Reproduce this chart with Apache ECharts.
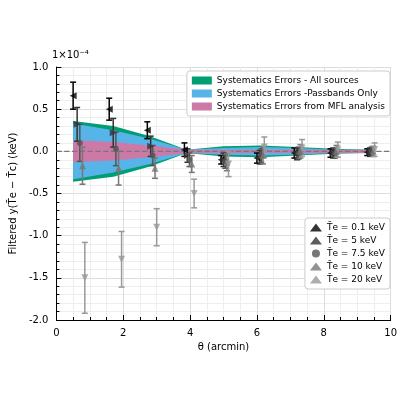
<!DOCTYPE html>
<html><head><meta charset="UTF-8">
<script src="https://cdn.jsdelivr.net/npm/echarts@6/dist/echarts.min.js"></script>
</head><body style="margin:0">
<div id="main" style="width:400px;height:400px;"></div>
<script>
// values in units of 1e-4 keV
var bandX = [0.5, 1.7, 2.8, 3.9, 5.0, 6.1, 7.2, 8.3, 9.4];
var bandAll = [0.36, 0.30, 0.18, 0.02, 0.06, 0.07, 0.05, 0.03, 0.02];
var bandPass = [0.33, 0.25, 0.15, 0.02, 0.04, 0.05, 0.04, 0.02, 0.02];
var bandMFL = [0.13, 0.11, 0.07, 0.02, 0.02, 0.02, 0.02, 0.02, 0.02];

var names = ['T̄e = 0.1 keV', 'T̄e = 5 keV', 'T̄e = 7.5 keV', 'T̄e = 10 keV', 'T̄e = 20 keV'];
var colors = ['#000000', '#333333', '#555555', '#777777', '#999999'];
var symbols = ['triangle', 'triangle', 'circle', 'triangle', 'triangle'];
var rotations = [90, -90, 0, 0, 180];
var ptX = [
  [0.5, 1.58, 2.72, 3.83, 4.93, 6.0, 7.12, 8.2, 9.3],
  [0.62, 1.7, 2.82, 3.92, 5.0, 6.08, 7.2, 8.28, 9.38],
  [0.7, 1.78, 2.88, 3.98, 5.05, 6.13, 7.25, 8.33, 9.43],
  [0.78, 1.86, 2.95, 4.05, 5.1, 6.18, 7.3, 8.38, 9.48],
  [0.85, 1.95, 3.0, 4.12, 5.15, 6.22, 7.35, 8.42, 9.52]
];
var ptY = [
  [0.66, 0.50, 0.25, 0.02, -0.10, -0.08, -0.02, -0.02, -0.01],
  [0.32, 0.22, 0.06, -0.05, -0.10, -0.07, -0.03, -0.02, -0.01],
  [0.10, 0.03, -0.05, -0.10, -0.12, -0.05, -0.02, -0.02, 0.00],
  [-0.17, -0.20, -0.20, -0.15, -0.13, -0.05, 0.00, 0.00, 0.00],
  [-1.50, -1.28, -0.90, -0.50, -0.15, 0.05, 0.04, 0.02, 0.02]
];
var ptErr = [
  [0.16, 0.13, 0.10, 0.08, 0.05, 0.06, 0.06, 0.05, 0.04],
  [0.20, 0.17, 0.12, 0.08, 0.08, 0.08, 0.07, 0.06, 0.05],
  [0.22, 0.20, 0.12, 0.08, 0.08, 0.08, 0.07, 0.06, 0.05],
  [0.22, 0.20, 0.12, 0.10, 0.10, 0.10, 0.08, 0.07, 0.06],
  [0.42, 0.33, 0.22, 0.17, 0.15, 0.12, 0.10, 0.09, 0.08]
];

var series = [];
function band(name, vals, color) {
  series.push({ type: 'custom', name: name, silent: true, z: 1, itemStyle: { color: color },
    data: bandX.map(function (x, i) { return [x, vals[i]]; }),
    renderItem: function (params, api) {
      if (params.dataIndex !== 0) return;
      var pts = [];
      bandX.forEach(function (x, i) { pts.push(api.coord([x, vals[i]])); });
      for (var i = bandX.length - 1; i >= 0; i--) pts.push(api.coord([bandX[i], -vals[i]]));
      return { type: 'polygon', shape: { points: pts }, style: { fill: color } };
    } });
}
band('Systematics Errors - All sources', bandAll, '#009e73');
band('Systematics Errors -Passbands Only', bandPass, '#56b4e9');
band('Systematics Errors from MFL analysis', bandMFL, '#cc79a7');

series.push({ type: 'line', data: [[0, 0], [10, 0]], symbol: 'none', silent: true, z: 2,
  lineStyle: { color: '#777', type: 'dashed', width: 1.3 } });

names.forEach(function (n, k) {
  var d = ptX[k].map(function (x, i) { return [x, ptY[k][i], ptErr[k][i]]; });
  series.push({ type: 'custom', z: 3, silent: true, data: d,
    renderItem: function (params, api) {
      var x = api.value(0), y = api.value(1), e = api.value(2);
      var top = api.coord([x, y + e]), bot = api.coord([x, y - e]);
      var st = { stroke: colors[k], lineWidth: 1.5 };
      return { type: 'group', children: [
        { type: 'line', shape: { x1: top[0], y1: top[1], x2: bot[0], y2: bot[1] }, style: st },
        { type: 'line', shape: { x1: top[0] - 3, y1: top[1], x2: top[0] + 3, y2: top[1] }, style: st },
        { type: 'line', shape: { x1: bot[0] - 3, y1: bot[1], x2: bot[0] + 3, y2: bot[1] }, style: st }
      ] };
    } });
  series.push({ type: 'scatter', name: n, z: 4, data: d.map(function (p) { return [p[0], p[1]]; }),
    symbol: symbols[k], symbolRotate: rotations[k], symbolSize: k == 2 ? 6 : 7,
    itemStyle: { color: colors[k] } });
});

var font = 'DejaVu Sans';
var chart = echarts.init(document.getElementById('main'));
chart.setOption({
  animation: false,
  textStyle: { fontFamily: font },
  grid: { left: 50, right: 6, top: 67, bottom: 80 },
  xAxis: { type: 'value', min: 0, max: 10, interval: 2, name: 'θ (arcmin)', nameLocation: 'middle', nameGap: 18,
    nameTextStyle: { fontSize: 10, color: '#000' },
    axisLine: { onZero: false, lineStyle: { color: '#000' } }, axisTick: { inside: true, lineStyle: { color: '#000' } },
    minorTick: { show: true, splitNumber: 4 }, axisLabel: { color: '#000', fontSize: 10 },
    splitLine: { lineStyle: { color: '#ddd' } }, minorSplitLine: { show: true, lineStyle: { color: '#eee' } } },
  yAxis: { type: 'value', min: -2, max: 1, interval: 0.5, name: 'Filtered y(T̄e − T̄c) (keV)',
    nameLocation: 'middle', nameGap: 32, nameTextStyle: { fontSize: 10, color: '#000' },
    axisLine: { show: true, lineStyle: { color: '#000' } }, axisTick: { inside: true, lineStyle: { color: '#000' } },
    minorTick: { show: true, splitNumber: 5 },
    axisLabel: { color: '#000', fontSize: 10, formatter: function (v) { return v.toFixed(1); } },
    splitLine: { lineStyle: { color: '#ddd' } }, minorSplitLine: { show: true, lineStyle: { color: '#eee' } } },
  legend: [
    { data: ['Systematics Errors - All sources', 'Systematics Errors -Passbands Only', 'Systematics Errors from MFL analysis'].map(function (s) { return { name: s, icon: 'rect' }; }),
      orient: 'vertical', right: 10, top: 71, itemWidth: 20, itemHeight: 8, itemGap: 4,
      textStyle: { fontSize: 9, color: '#000' }, backgroundColor: '#fff', borderColor: '#ccc', borderWidth: 1, padding: 5, borderRadius: 3 },
    { data: names, orient: 'vertical', right: 10, top: 218, itemWidth: 12, itemHeight: 8, itemGap: 4,
      textStyle: { fontSize: 9, color: '#000' }, backgroundColor: '#fff', borderColor: '#ccc', borderWidth: 1, padding: 5, borderRadius: 3 }
  ],
  graphic: [{ type: 'text', left: 52, top: 50, style: { text: '1×10⁻⁴', fontSize: 10, fontFamily: font, fill: '#000' } }],
  series: series
});
</script>
</body></html>
